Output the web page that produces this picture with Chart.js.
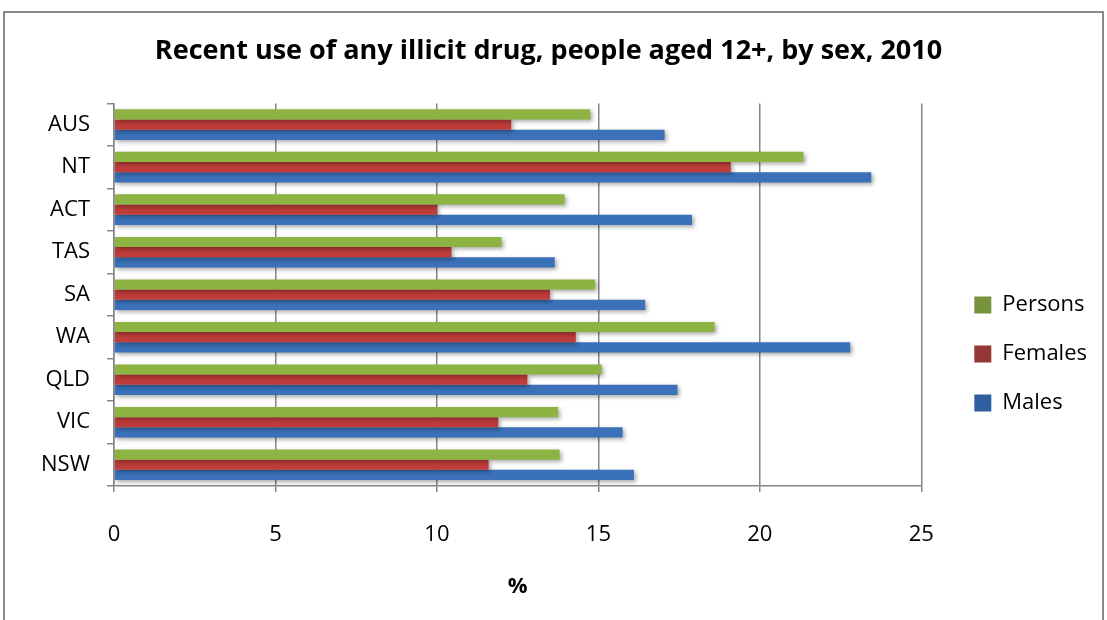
<!DOCTYPE html>
<html>
<head>
<meta charset="utf-8">
<script src="https://cdn.jsdelivr.net/npm/chart.js@4/dist/chart.umd.min.js"></script>
<style>
  body { margin: 0; background: #fff; }
  #wrap { position: relative; width: 1107px; height: 620px; }
  #frame {
    position: absolute; left: 3px; top: 11px; width: 1097px; height: 640px;
    border: 2px solid #8a8a8a; pointer-events: none;
  }
  canvas { position: absolute; left: 0; top: 0; }
</style>
</head>
<body>
<div id="wrap">
  <canvas id="grafico" width="1107" height="620"></canvas>
  <div id="frame"></div>
</div>
<script>
// categorias de arriba hacia abajo
const estados = ['AUS', 'NT', 'ACT', 'TAS', 'SA', 'WA', 'QLD', 'VIC', 'NSW'];

const personas = [14.75, 21.35, 13.95, 12.0, 14.9, 18.6, 15.1, 13.75, 13.8];
const mujeres  = [12.3, 19.1, 10.0, 10.45, 13.5, 14.3, 12.8, 11.9, 11.6];
const hombres  = [17.05, 23.45, 17.9, 13.65, 16.45, 22.8, 17.45, 15.75, 16.1];

const ticksX = [0, 5, 10, 15, 20, 25];

const fuente = '"Open Sans", sans-serif';

// sombra de las barras, como en el grafico original
const sombra = {
  id: 'sombra',
  beforeDatasetsDraw(chart) {
    const ctx = chart.ctx;
    ctx.save();
    ctx.shadowColor = 'rgba(0,0,0,0.35)';
    ctx.shadowBlur = 4;
    ctx.shadowOffsetX = 2;
    ctx.shadowOffsetY = 2;
  },
  afterDatasetsDraw(chart) {
    chart.ctx.restore();
  }
};

const coloresLeyenda = ['#77933C', '#953735', '#2F5F9F'];

new Chart(document.getElementById('grafico'), {
  type: 'bar',
  data: {
    labels: estados,
    datasets: [
      { label: 'Persons', data: personas, backgroundColor: '#8DB443' },
      { label: 'Females', data: mujeres, backgroundColor: '#BE3C3A' },
      { label: 'Males', data: hombres, backgroundColor: '#3A71B8' }
    ]
  },
  options: {
    indexAxis: 'y',
    responsive: false,
    animation: false,
    categoryPercentage: 0.72,
    barPercentage: 1.0,
    layout: { padding: { top: 0, left: 0, right: 10, bottom: 0 } },
    plugins: {
      title: {
        display: true,
        text: 'Recent use of any illicit drug, people aged 12+, by sex, 2010',
        color: '#000',
        font: { family: fuente, size: 27, weight: 'bold' },
        padding: { top: 35, bottom: 36 }
      },
      legend: {
        position: 'right',
        // titulo vacio solo para bajar la leyenda
        title: { display: true, text: ' ', color: '#000', font: { size: 1 }, padding: { top: 87, bottom: 0 } },
        labels: {
          color: '#000',
          font: { family: fuente, size: 22 },
          boxWidth: 17,
          boxHeight: 17,
          padding: 27,
          generateLabels(chart) {
            return chart.data.datasets.map((ds, i) => ({
              text: ds.label,
              fillStyle: coloresLeyenda[i],
              strokeStyle: coloresLeyenda[i],
              fontColor: '#000',
              lineWidth: 0,
              datasetIndex: i
            }));
          }
        }
      },
      tooltip: { enabled: false }
    },
    scales: {
      x: {
        min: 0,
        max: 25,
        afterBuildTicks(scale) {
          scale.ticks = ticksX.map(v => ({ value: v }));
        },
        afterFit(scale) { scale.height = 134; },
        grid: { color: '#868686', lineWidth: 1.5, tickLength: 6, drawTicks: true },
        border: { color: '#868686', width: 1.5 },
        ticks: {
          color: '#000',
          font: { family: fuente, size: 22 },
          padding: 30
        },
        title: {
          display: true,
          text: '%',
          color: '#000',
          font: { family: fuente, size: 22, weight: 'bold' },
          padding: { top: 0, bottom: 20 }
        }
      },
      y: {
        afterFit(scale) { scale.width = 114; },
        grid: { drawOnChartArea: false, color: '#868686', lineWidth: 1.5, tickLength: 7 },
        border: { color: '#868686', width: 1.5 },
        ticks: {
          color: '#000',
          font: { family: fuente, size: 22 },
          padding: 17
        }
      },
      // eje vacio a la derecha, solo deja espacio antes de la leyenda
      espacio: {
        type: 'category',
        position: 'right',
        afterFit(scale) { scale.width = 26; },
        grid: { display: false },
        border: { display: false },
        ticks: { display: false }
      }
    }
  },
  plugins: [sombra]
});
</script>
</body>
</html>
